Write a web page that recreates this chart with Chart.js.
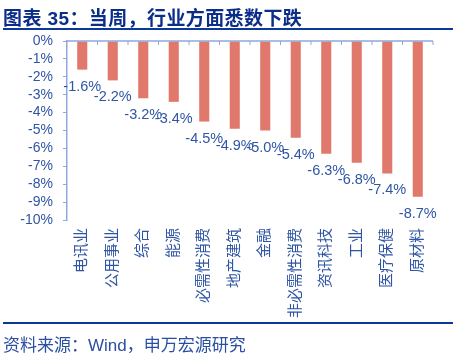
<!DOCTYPE html>
<html>
<head>
<meta charset="utf-8">
<script src="https://cdn.jsdelivr.net/npm/chart.js@4/dist/chart.umd.min.js"></script>
<style>
html,body{margin:0;padding:0;background:#fff;width:459px;height:355px;overflow:hidden;}
#wrap{position:relative;width:459px;height:355px;}
#title{position:absolute;left:3px;top:3px;font:bold 19px "Liberation Sans","Noto Sans CJK SC",sans-serif;color:#0B2D8A;white-space:nowrap;letter-spacing:0.4px;}
#rule1{position:absolute;left:3px;top:28px;width:450px;height:2px;background:#0B3A96;}
#rule2{position:absolute;left:3px;top:322px;width:450px;height:2px;background:#0B3A96;}
#source{position:absolute;left:3px;top:331px;font:17px "Liberation Sans","Noto Sans CJK SC",sans-serif;color:#2B4FA0;white-space:nowrap;}
canvas{position:absolute;left:0;top:0;}
</style>
</head>
<body>
<div id="wrap">
<canvas id="c" width="459" height="355"></canvas>
<div id="title">图表 35：当周，行业方面悉数下跌</div>
<div id="rule1"></div>
<div id="rule2"></div>
<div id="source">资料来源：Wind，申万宏源研究</div>
</div>
<script>
const categories = ['电讯业','公用事业','综合','能源','必需性消费','地产建筑','金融','非必需性消费','资讯科技','工业','医疗保健','原材料'];
const weeklyChange = [-1.6,-2.2,-3.2,-3.4,-4.5,-4.9,-5.0,-5.4,-6.3,-6.8,-7.4,-8.7];
const yMin = -10;
const yMax = 0;

const TEXT = '#2F55A4';
const AXIS = '#8EA9DB';
const FONT = '"Liberation Sans","Noto Sans CJK SC",sans-serif';

const topAxisAndLabels = {
  id: 'topAxisAndLabels',
  afterDatasetsDraw(chart) {
    const ctx = chart.ctx;
    const xs = chart.scales.x, ys = chart.scales.y;
    const area = chart.chartArea;
    const y0 = ys.getPixelForValue(0);
    ctx.save();
    ctx.strokeStyle = AXIS;
    ctx.lineWidth = 1.5;
    ctx.beginPath();
    ctx.moveTo(area.left, y0);
    ctx.lineTo(area.right, y0);
    ctx.stroke();
    ctx.lineWidth = 1;
    const n = categories.length;
    for (let i = 1; i <= n; i++) {
      let bx = i === n ? area.right : (xs.getPixelForValue(i - 1) + xs.getPixelForValue(i)) / 2;
      ctx.beginPath();
      ctx.moveTo(bx, y0);
      ctx.lineTo(bx, y0 + 4);
      ctx.stroke();
    }
    ctx.fillStyle = TEXT;
    ctx.font = '14.5px ' + FONT;
    ctx.textAlign = 'center';
    ctx.textBaseline = 'middle';
    const meta = chart.getDatasetMeta(0);
    meta.data.forEach((bar, i) => {
      ctx.fillText(weeklyChange[i].toFixed(1) + '%', bar.x, bar.y + 17);
    });
    ctx.restore();
  }
};

new Chart(document.getElementById('c'), {
  type: 'bar',
  data: {
    labels: categories,
    datasets: [{
      data: weeklyChange,
      backgroundColor: '#E0786C',
      borderWidth: 0,
      categoryPercentage: 1,
      barPercentage: 0.33
    }]
  },
  options: {
    responsive: false,
    animation: false,
    devicePixelRatio: 1,
    layout: { padding: { left: 0, right: 26, top: 41, bottom: 35 } },
    plugins: { legend: { display: false }, tooltip: { enabled: false } },
    scales: {
      x: {
        position: 'bottom',
        grid: { display: false, drawTicks: false },
        border: { display: false },
        ticks: {
          autoSkip: false,
          minRotation: 90,
          maxRotation: 90,
          padding: 8,
          color: TEXT,
          font: { family: FONT, size: 15 }
        },
        afterFit(s) { s.height = 100; }
      },
      y: {
        min: yMin,
        max: yMax,
        grid: { drawOnChartArea: false, drawTicks: true, tickLength: 4, color: AXIS },
        border: { display: true, color: AXIS, width: 1.5 },
        ticks: {
          stepSize: 1,
          autoSkip: false,
          padding: 10,
          color: TEXT,
          font: { family: FONT, size: 14 },
          callback: v => v + '%'
        },
        afterFit(s) { s.width = 67; }
      }
    }
  },
  plugins: [topAxisAndLabels]
});
</script>
</body>
</html>
